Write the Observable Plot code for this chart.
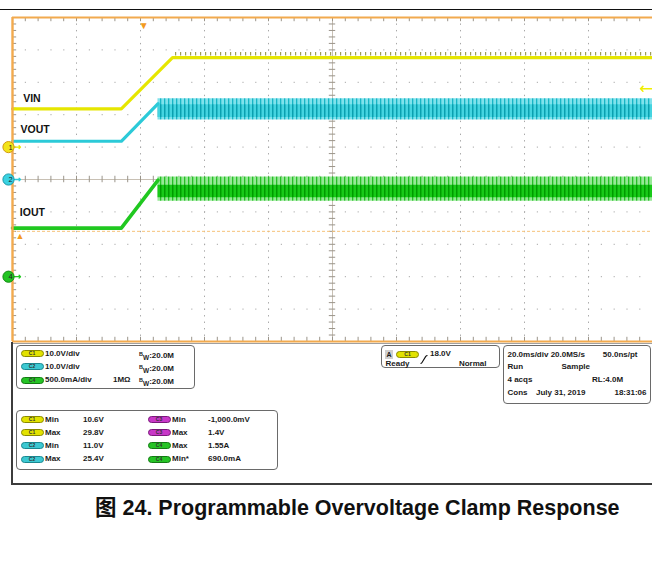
<!DOCTYPE html>
<html><head><meta charset="utf-8">
<script src="https://cdn.jsdelivr.net/npm/d3@7"></script>
<script src="https://cdn.jsdelivr.net/npm/@observablehq/plot@0.6"></script>
<style>
body{margin:0;background:#fff;}
#root{position:relative;width:652px;height:569px;overflow:hidden;font-family:"Liberation Sans",Arial,sans-serif;}
#root svg.plot{position:absolute;left:0;top:0;}
.t{position:absolute;font-size:8px;font-weight:bold;color:#1a1a1a;line-height:10px;white-space:nowrap;}
.pill{position:absolute;height:5px;border-radius:4px;font-size:5px;line-height:5px;text-align:center;font-weight:bold;color:#333;}
.box{position:absolute;border:1px solid #6a6a6a;border-radius:4px;box-sizing:border-box;}
.ln{position:absolute;}
</style></head><body>
<svg width="0" height="0" style="position:absolute">
<defs>
<pattern id="cyanOuter" patternUnits="userSpaceOnUse" width="4" height="4">
<rect width="4" height="4" fill="#80e2ec"/><rect x="0" width="1.3" height="4" fill="#18b6c6"/>
</pattern>
<pattern id="cyanCore" patternUnits="userSpaceOnUse" width="4" height="4">
<rect width="4" height="4" fill="#44d4e0"/><rect x="0" width="1.5" height="4" fill="#0aa0b0"/>
</pattern>
<pattern id="greenOuter" patternUnits="userSpaceOnUse" width="4" height="4">
<rect width="4" height="4" fill="#96e896"/><rect x="0" width="1.3" height="4" fill="#26c026"/>
</pattern>
<pattern id="greenCore" patternUnits="userSpaceOnUse" width="4" height="4">
<rect width="4" height="4" fill="#18ca18"/><rect x="0" width="1.5" height="4" fill="#009a00"/>
</pattern>
<pattern id="yellowNoise" patternUnits="userSpaceOnUse" width="5" height="4">
<rect x="0" width="1.2" height="4" fill="#8c8c3a" fill-opacity="0.85"/>
</pattern>
</defs>
</svg>
<div id="root"></div>
<script>
// ---------------- data ----------------
const timeRange = [-41, 159];          // ms, screen edges relative to trigger (20 ms/div)
const divRange = [-5, 5];              // vertical divisions
const chNames = ["C1", "C2", "C4"];
const chLabels = ["VIN", "VOUT", "IOUT"];
const chPerDiv = [10, 10, 0.5];        // V/div, V/div, A/div
const chGround = [1, 0, -3];           // ground marker position, div
const chMarker = ["1", "2", "4"];

const vinT = [-41, -7, 9, 159];
const vinV = [11.8, 11.8, 27.6, 27.6];
const vinNoiseT = [9, 159];
const vinNoiseLo = [28.1, 28.1];
const vinNoiseHi = [29.2, 29.2];

const voutT = [-41, -7, 4.5];
const voutV = [11.8, 11.8, 23.4];
const voutRipT = [4.5, 159];
const voutRipLo = [18.4, 18.4];
const voutRipHi = [24.9, 24.9];
const voutCoreLo = [19.1, 19.1];
const voutCoreHi = [23.1, 23.1];

const ioutT = [-41, -7, 4.5];
const ioutV = [0.75, 0.75, 1.49];
const ioutRipT = [4.5, 159];
const ioutRipLo = [1.165, 1.165];
const ioutRipHi = [1.54, 1.54];
const ioutCoreLo = [1.22, 1.22];
const ioutCoreHi = [1.41, 1.41];

const trigLevelV = 18.0;               // C1 trigger level
const cursorDiv = -1.6;                // orange horizontal cursor

// readout text
const setCh = ["C1", "C2", "C4"];
const setScale = ["10.0V/div", "10.0V/div", "500.0mA/div"];
const setImp = ["", "", "1MΩ"];
const setBW = ["20.0M", "20.0M", "20.0M"];
const measCh1 = ["C1", "C1", "C2", "C2"];
const measName1 = ["Min", "Max", "Min", "Max"];
const measVal1 = ["10.6V", "29.8V", "11.0V", "25.4V"];
const measCh2 = ["C3", "C3", "C4", "C4"];
const measName2 = ["Min", "Max", "Max", "Min*"];
const measVal2 = ["-1,000.0mV", "1.4V", "1.55A", "690.0mA"];
const trigText = ["18.0V", "Ready", "Normal"];
const timeRows = [["20.0ms/div 20.0MS/s", "", "50.0ns/pt"], ["Run", "Sample", ""], ["4 acqs", "", "RL:4.0M"], ["Cons", "July 31, 2019", "18:31:06"]];
const caption = "图 24. Programmable Overvoltage Clamp Response";

// ---------------- styles ----------------
const chColor = ["#e6e600", "#2ccad8", "#20c820"];
const mkFill = ["#f2e41a", "#3ad2e2", "#22c422"];
const mkStroke = ["#d29a10", "#1898a8", "#128a12"];
const pillColor = {C1: ["#e2e200", "#8a8a00"], C2: ["#3cc8d2", "#1a8890"], C3: ["#c838c8", "#7a187a"], C4: ["#26c426", "#137a13"]};
const orange = "#f2aa4e";

const toDiv = (v, i) => v / chPerDiv[i] + chGround[i];
const pts = (T, V) => T.map((t, k) => ({t, v: V[k]}));
const band = (T, L, H) => T.map((t, k) => ({t, lo: L[k], hi: H[k]}));

const minorX = d3.range(timeRange[0], timeRange[1] + 0.01, 4);
const majorX = d3.range(timeRange[0] + 20, timeRange[1] - 1, 20);
const minorY = d3.range(-5, 5.001, 0.2);
const majorY = [-4, -3, -2, -1, 1, 2, 3, 4];
const centerX = (timeRange[0] + timeRange[1]) / 2;

const labelDx = [10.7, 8, 7.3];
const labelDy = [-10.5, -12, -15];
const preLevel = [vinV[0], voutV[0], ioutV[0]];

const plot = Plot.plot({
  width: 652, height: 345,
  marginLeft: 12, marginRight: 0, marginTop: 17, marginBottom: 4,
  x: {domain: timeRange, axis: null},
  y: {domain: divRange, axis: null},
  style: {background: "transparent", fontFamily: "Liberation Sans, Arial, sans-serif", overflow: "visible"},
  marks: [
    // graticule
    Plot.ruleY(majorY, {stroke: "#a8a8a8", strokeDasharray: "1.2 11.6"}),
    Plot.ruleX(majorX.filter(d => Math.abs(d - centerX) > 1), {stroke: "#a8a8a8", strokeDasharray: "1.4 5.08"}),
    Plot.ruleX([centerX], {stroke: "#c8c0b4"}),
    Plot.ruleY([0], {stroke: "#c8c0b4"}),
    Plot.ruleX(minorX, {y1: () => -0.1, y2: () => 0.1, stroke: "#9a948a"}),
    Plot.ruleY(minorY, {x1: () => centerX - 1, x2: () => centerX + 1, stroke: "#9a948a"}),
    Plot.ruleX(minorX, {y1: () => 5, y2: () => 4.87, stroke: "#9a948a"}),
    Plot.ruleX(minorX, {y1: () => -5, y2: () => -4.87, stroke: "#9a948a"}),
    Plot.ruleY(minorY, {x1: () => timeRange[0], x2: () => timeRange[0] + 1.3, stroke: "#9a948a"}),
    // cursor
    Plot.ruleY([cursorDiv], {stroke: "#f6c27a", strokeDasharray: "3 2"}),
    // VIN
    Plot.areaY(band(vinNoiseT, vinNoiseLo, vinNoiseHi), {x: "t", y1: d => toDiv(d.lo, 0), y2: d => toDiv(d.hi, 0), fill: "url(#yellowNoise)"}),
    Plot.line(pts(vinT, vinV), {x: "t", y: d => toDiv(d.v, 0), stroke: chColor[0], strokeWidth: 3.2}),
    // VOUT
    Plot.areaY(band(voutRipT, voutRipLo, voutRipHi), {x: "t", y1: d => toDiv(d.lo, 1), y2: d => toDiv(d.hi, 1), fill: "url(#cyanOuter)"}),
    Plot.areaY(band(voutRipT, voutCoreLo, voutCoreHi), {x: "t", y1: d => toDiv(d.lo, 1), y2: d => toDiv(d.hi, 1), fill: "url(#cyanCore)"}),
    Plot.line(pts(voutT, voutV), {x: "t", y: d => toDiv(d.v, 1), stroke: chColor[1], strokeWidth: 3.2}),
    // IOUT
    Plot.areaY(band(ioutRipT, ioutRipLo, ioutRipHi), {x: "t", y1: d => toDiv(d.lo, 2), y2: d => toDiv(d.hi, 2), fill: "url(#greenOuter)"}),
    Plot.areaY(band(ioutRipT, ioutCoreLo, ioutCoreHi), {x: "t", y1: d => toDiv(d.lo, 2), y2: d => toDiv(d.hi, 2), fill: "url(#greenCore)"}),
    Plot.line(pts(ioutT, ioutV), {x: "t", y: d => toDiv(d.v, 2), stroke: chColor[2], strokeWidth: 3.6}),
    // frame (left, top, bottom)
    Plot.ruleX([timeRange[0]], {stroke: orange, strokeWidth: 2.4}),
    Plot.ruleY([5, -5], {stroke: orange, strokeWidth: 2.2}),
    // trace labels
    ...chLabels.map((s, i) => Plot.text([s], {frameAnchor: "left", y: () => toDiv(preLevel[i], i), text: d => d,
      dx: labelDx[i], dy: labelDy[i], textAnchor: "start", fontSize: 10.5, fontWeight: "bold", fill: "#111"})),
    // channel ground markers
    Plot.vector(chNames, {frameAnchor: "left", y: (d, i) => chGround[i], dx: 1, length: 7, rotate: 90, anchor: "start",
      stroke: (d, i) => chColor[i], strokeWidth: 1.3}),
    Plot.dot(chNames, {frameAnchor: "left", y: (d, i) => chGround[i], dx: -4, r: 5.6,
      fill: (d, i) => mkFill[i], stroke: (d, i) => mkStroke[i], strokeWidth: 1}),
    Plot.text(chMarker, {frameAnchor: "left", y: (d, i) => chGround[i], dx: -4, text: d => d, fontSize: 7.5, fill: "#222"}),
    // trigger position / level markers
    Plot.text([0], {x: d => d, frameAnchor: "top", text: () => "▼", dy: 4, fill: "#f39a20", fontSize: 10}),
    Plot.text([cursorDiv], {y: d => d, frameAnchor: "left", text: () => "▲", dx: 3, dy: 5, fill: "#f39a20", fontSize: 9}),
    Plot.vector([trigLevelV], {frameAnchor: "right", y: d => toDiv(d, 0), length: 12, rotate: -90, anchor: "start",
      stroke: "#f0ee00", strokeWidth: 1.5})
  ]
});
plot.classList.add("plot");
const root = document.getElementById("root");
root.appendChild(plot);

// ---------------- readout panel ----------------
function el(cls, x, y, html, style = {}) {
  const d = document.createElement("div");
  d.className = cls; d.style.left = x + "px"; d.style.top = y + "px"; d.innerHTML = html;
  Object.assign(d.style, style); root.appendChild(d); return d;
}
function txt(x, yc, s, style = {}) { return el("t", x, yc - 5, s, style); }
function txtR(xr, yc, s) { const d = el("t", 0, yc - 5, s); d.style.left = ""; d.style.right = (652 - xr) + "px"; return d; }
function pill(x, yc, ch) {
  const c = pillColor[ch];
  return el("pill", x, yc - 3.5, ch, {width: "21px", background: c[0], border: "1px solid " + c[1]});
}
function box(x, y, w, h) { return el("box", x, y, "", {width: w + "px", height: h + "px"}); }

// panel frame lines
el("ln", 0, 9, "", {width: "652px", height: "1px", background: "#111"});
el("ln", 11, 342, "", {width: "2px", height: "143px", background: "#3c3c3c"});
el("ln", 11, 483, "", {width: "641px", height: "2px", background: "#3c3c3c"});
el("ln", 13, 343, "", {width: "639px", height: "1px", background: "#a0a0a0"});

// channel settings box
box(16, 345, 179, 44);
const bw = s => `<span style="font-size:5.5px;vertical-align:2px">B</span><span style="font-size:6.5px;vertical-align:-1.5px">W</span>:${s}`;
[353.7, 366.5, 380].forEach((yc, i) => {
  pill(20.5, yc, setCh[i]);
  txt(45, yc, setScale[i]);
  if (setImp[i]) txt(113, yc, setImp[i]);
  txt(139, yc, bw(setBW[i]));
});

// measurements box
box(16, 410, 262, 59.5);
[419.7, 432.5, 445.7, 459].forEach((yc, i) => {
  pill(20.5, yc, measCh1[i]); txt(45, yc, measName1[i]); txt(83, yc, measVal1[i]);
  pill(147.5, yc, measCh2[i]); txt(172, yc, measName2[i]); txt(208, yc, measVal2[i]);
});

// trigger box
box(380.5, 345, 119, 23);
el("t", 385, 350, "A", {background: "#cfcfcf", width: "8px", height: "9px", lineHeight: "9px", textAlign: "center", fontSize: "7px"});
pill(396, 354, "C1");
el("ln", 420, 350, `<svg width="8" height="9"><path d="M0.5 8.5 Q1.5 8.5 2.2 7.2 L5.6 1.6 Q6.3 0.5 7.5 0.5" fill="none" stroke="#111" stroke-width="1.1"/></svg>`);
txt(430, 354, trigText[0]);
txt(385.5, 364, trigText[1]);
txtR(486.5, 364, trigText[2]);

// timebase box
box(502.5, 345, 148, 59);
[355, 367, 380, 393.3].forEach((yc, i) => {
  const r = timeRows[i];
  txt(507.5, yc, r[0]);
  if (r[1]) txt(i === 3 ? 536 : 561.5, yc, r[1]);
  if (r[2]) { if (i === 2) txt(592, yc, r[2]); else txtR(i === 0 ? 637.5 : 646.5, yc, r[2]); }
});

// caption
el("t", 95, 495.5, caption, {fontSize: "21.5px", lineHeight: "24px", color: "#111",
  fontFamily: "'Liberation Sans', 'Noto Sans CJK SC', Arial, sans-serif"});
</script>
</body></html>
